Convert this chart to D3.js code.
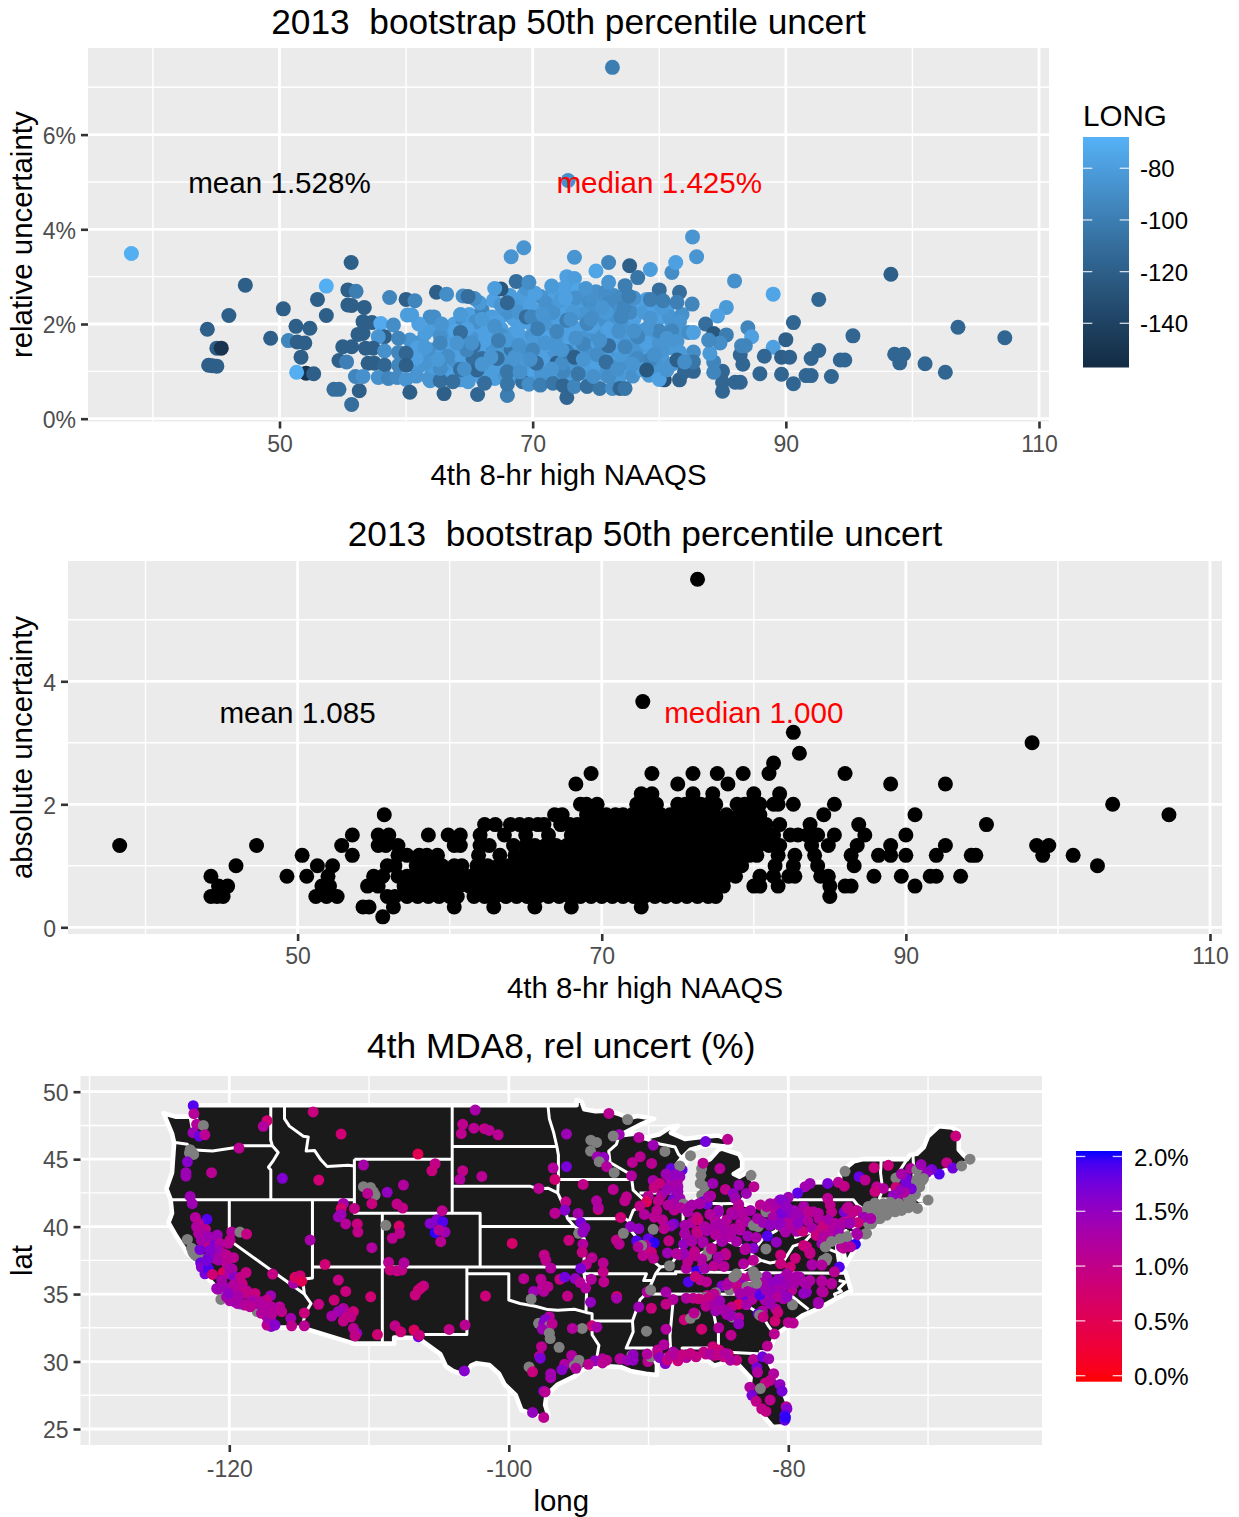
<!DOCTYPE html>
<html>
<head>
<meta charset="utf-8">
<script src="https://cdn.jsdelivr.net/npm/d3@7"></script>
<style>
  html, body { margin: 0; padding: 0; background: #fff; }
  svg { display: block; }
  text { font-family: "Liberation Sans", Arial, sans-serif; white-space: pre; }
</style>
</head>
<body>
<div id="chart"></div>
<script>
// ---- top panel: [4th 8-hr high, relative uncertainty %, longitude]
const relOutliers = [[76.3,7.42,-100],[72.8,5.03,-88],[38.3,3.49,-70],[55.66,3.3,-120],[47.3,2.82,-120],[53.7,2.8,-70],[55.4,2.72,-120],[56.05,2.69,-100],[53,2.52,-120],[46,2.18,-120],[50.3,2.32,-120],[55.4,2.4,-120],[55.7,2.39,-120],[56.7,2.35,-120],[58.7,2.56,-95],[60,2.52,-120],[60.7,2.49,-95],[53.7,2.18,-120],[60.1,2.19,-80],[60.45,2.19,-80],[62.4,2.67,-120],[63.2,2.63,-90],[64.5,2.59,-90],[65.4,2.54,-90],[64.9,2.58,-110],[67.5,2.74,-125],[67,2.75,-80],[68.7,2.9,-110],[69.7,2.88,-90],[68.3,3.42,-85],[69.3,3.61,-85],[73.3,3.41,-85],[51.3,1.95,-120],[52.4,1.91,-120],[44.3,1.89,-120],[49.3,1.7,-120],[50.7,1.65,-95],[51.4,1.62,-120],[52,1.6,-120],[45.05,1.49,-120],[45.4,1.49,-150],[44.4,1.13,-120],[44.7,1.12,-120],[45.05,1.11,-120],[51.7,1.3,-120],[52.1,.96,-150],[51.35,.98,-70],[52.7,.95,-120],[54.3,.62,-110],[54.7,.62,-110],[56.3,.59,-120],[55.7,.3,-110],[60.3,.56,-120],[63,.53,-120],[65.65,.51,-115],[68,.49,-100],[72.7,.45,-115]];

const relEastSide = [[82.63,3.84,-85],[82.95,3.42,-85],[75,3.12,-75],[76,3.3,-95],[77.66,3.23,-120],[79.3,3.15,-80],[78.3,2.98,-105],[81,3.09,-90],[81.3,3.3,-78],[76,2.88,-85],[77.3,2.81,-100],[85.95,2.91,-88],[89,2.63,-75],[92.6,2.52,-115],[98.3,3.05,-120],[85.3,2.35,-82],[84.6,2.17,-78],[83.66,2,-110],[84.3,1.8,-125],[85.3,1.77,-100],[87,1.92,-95],[87.3,1.73,-78],[90.6,2.03,-115],[95.3,1.75,-115],[103.6,1.93,-115],[107.3,1.71,-115],[90,1.67,-120],[89,1.51,-78],[92.6,1.44,-115],[86.4,1.35,-115],[86.5,1.54,-95],[86.8,1.54,-95],[88.3,1.32,-115],[89.66,1.3,-120],[90.3,1.3,-118],[92,1.27,-115],[94.3,1.24,-115],[94.66,1.24,-115],[98.6,1.36,-115],[99.3,1.36,-115],[99,1.18,-115],[101,1.16,-115],[102.6,.98,-115],[87.95,.95,-115],[89.66,.94,-115],[91.6,.91,-115],[92,.91,-115],[93.6,.89,-115],[90.6,.74,-115],[86.6,1.15,-115],[85,1,-115],[85,.58,-115],[85,.77,-115],[86,.77,-115],[86.4,.77,-115],[84.3,1.2,-95],[84.3,.98,-95],[84,1.38,-82],[84.8,1.6,-90],[83.9,1.66,-92],[82.7,1,-115],[81.6,.82,-118],[82,1,-115],[80.4,.82,-130],[80,.83,-78],[80.6,1.03,-85]];

const relWestSide = [[56.6,2.05,-120],[57.3,2.03,-120],[58,2.01,-72],[59,1.98,-90],[58.3,1.73,-120],[57.8,1.73,-85],[59.4,1.7,-95],[56.2,1.78,-120],[56.6,1.8,-120],[55,1.52,-120],[55.7,1.52,-120],[56.8,1.49,-120],[57.4,1.49,-120],[58.3,1.43,-88],[59.4,1.4,-95],[60,1.38,-115],[54.7,1.23,-120],[55.3,1.2,-98],[57,1.17,-120],[57.5,1.17,-120],[58.3,1.13,-115],[59.4,1.13,-95],[60,1.13,-120],[56,.89,-95],[56.6,.89,-88],[57.8,.87,-88],[58.6,.85,-95],[59.3,.87,-92],[60,.83,-85]];

const relBlobBase = [[60.3,1.66,-85],[61.2,1.63,-85],[60.6,1.4,-80],[61.4,1.31,-85],[61,1.1,-82],[62,1.05,-80],[62.2,1.3,-80],[62.6,1.5,-78],[63.4,1.7,-78],[62,1.89,-80],[63.2,1.84,-80],[61.9,2.15,-90],[62.2,2.15,-90],[63.8,2,-78],[64.5,2.06,-90],[65.6,1.98,-85],[66.4,2,-85],[65,2.2,-78],[66,2.3,-95],[66.9,2.5,-78],[67.7,2.19,-82],[67.5,1.9,-80],[68.5,2.1,-78],[68.8,2.45,-82],[69.3,2.61,-80],[70,2.3,-80],[70.6,2.58,-92],[71.2,2.35,-80],[71,2.55,-85],[71.8,2.6,-78],[72,2.3,-78],[72.7,2.75,-80],[72.4,2.75,-78],[72.7,3,-78],[73.3,2.96,-80],[73.6,2.72,-75],[73,2.4,-78],[74,2.45,-80],[74.5,2.47,-90],[75,2.68,-88],[75.7,2.67,-90],[75.6,2.44,-88],[76.4,2.6,-90],[77,2.4,-82],[74.5,2.26,-88],[63.8,1.45,-80],[64.5,1.7,-80],[65.4,1.8,-78],[64.7,1.25,-78],[63.7,1.1,-80],[65,.95,-82],[66.1,1.1,-78],[66.4,1.52,-78],[66.9,1.49,-88],[66.7,1.75,-82],[67.6,1.6,-78],[68.5,1.8,-80],[67.7,1.3,-78],[68.8,1.25,-78],[68.6,1.05,-80],[69.5,1.4,-78],[69.4,1.7,-80],[70,1.95,-78],[70.3,1.66,-85],[71,1.8,-78],[70.6,1.4,-78],[71,1.1,-80],[71.5,1.5,-78],[71.2,2.08,-80],[72.2,2,-78],[72.5,1.7,-78],[73,1.45,-78],[73.3,1.15,-78],[73.8,1.75,-80],[74.3,2.01,-80],[74.8,1.6,-78],[74.9,1.2,-78],[75.5,1.85,-80],[76,2.1,-85],[76.3,1.7,-78],[76.6,1.3,-78],[77.3,1.85,-80],[77.6,1.6,-78],[78,2.1,-78],[78.3,2.33,-78],[78.6,1.85,-78],[78.8,1.45,-78],[79,2.52,-78],[79.5,2.1,-78],[79.6,1.7,-78],[80.6,2.3,-78],[80,2.12,-78],[81,2,-80],[80.8,1.5,-82],[63,.95,-85],[61.8,.85,-85],[64.3,.82,-82],[66,.85,-78],[67,.85,-80],[68.2,.85,-82],[70,.9,-80],[71.6,.85,-80],[73,.9,-80],[74.4,.9,-82],[75.6,.95,-80],[77,1.05,-80],[78.2,1.02,-82]];

const relBlobFill = [[60.4,1.15,-82],[61.5,1.18,-85],[62.7,1.17,-78],[63.9,1.22,-88],[65.1,1.12,-76],[66.4,1.2,-85],[67.5,1.1,-78],[68.8,1.15,-88],[70,1.05,-76],[71.3,1.25,-85],[72.5,1.3,-78],[73.8,1.1,-88],[75,1,-78],[76.2,1.1,-85],[77.4,1.2,-88],[78.6,1.15,-85],[60.9,1.5,-78],[62.1,1.45,-88],[63.3,1.5,-76],[64.5,1.4,-85],[65.7,1.42,-78],[67,1.4,-85],[68.2,1.55,-76],[69.3,1.45,-88],[70.5,1.5,-78],[71.8,1.35,-85],[73,1.6,-76],[74.2,1.42,-88],[75.4,1.5,-78],[76.7,1.45,-85],[78,1.4,-88],[79.4,1.5,-85],[80.2,1.3,-82],[61.5,1.8,-80],[62.7,1.75,-88],[63.9,1.85,-76],[65.2,1.7,-85],[66.3,1.85,-78],[67.6,1.75,-88],[68.8,1.85,-78],[70,1.75,-85],[71.2,1.7,-76],[72.4,1.85,-85],[73.6,1.9,-78],[74.8,1.78,-88],[76,1.9,-78],[77.2,1.72,-85],[78.4,1.6,-88],[79.7,1.85,-85],[64.3,2.2,-82],[65.5,2.05,-88],[66.8,2.15,-80],[68,2.25,-88],[69.2,2.05,-78],[70.4,2.15,-85],[71.6,2.25,-88],[72.8,2.2,-78],[74,2.2,-85],[75.2,2.1,-88],[76.5,2.2,-88],[77.7,2.25,-92],[71,2.45,-88],[72.2,2.5,-82],[73.4,2.55,-88],[74.6,2.6,-88],[76,2.45,-92]];

const relBlobExtra = [[60.8,.9,-85],[62.3,.9,-80],[63.6,.88,-78],[64.8,.88,-85],[66.6,.95,-80],[67.8,.95,-85],[69.1,.92,-78],[70.7,.95,-85],[72,.95,-78],[72.9,1.02,-85],[74.1,1,-80],[75.9,1.02,-85],[76.8,.85,-82],[77.9,.9,-88],[79.2,.92,-82],[79.8,1.1,-85],[81,1.15,-85],[60.8,1.28,-78],[63,1.3,-85],[64.2,1.35,-78],[65.5,1.3,-82],[67,1.2,-78],[68.2,1.2,-85],[69.5,1.2,-82],[70.8,1.25,-78],[72.2,1.1,-85],[73.5,1.35,-82],[75.6,1.3,-78],[77,1.35,-82],[78.2,1.5,-85],[79.2,1.3,-78],[61.5,1.5,-82],[62.9,1.4,-78],[65,1.55,-85],[66.2,1.65,-78],[67.8,1.45,-82],[69,1.6,-78],[70.1,1.6,-82],[71.8,1.6,-85],[72.9,1.8,-78],[74,1.7,-85],[75.3,1.4,-82],[76.5,1.55,-78],[77.8,1.75,-82],[79,1.6,-78],[80,1.6,-85],[81.4,1.8,-82],[61,2,-78],[62.8,2,-85],[64.8,1.9,-78],[66,2.1,-82],[67.2,2.05,-78],[68.9,2.25,-85],[69.8,2.4,-78],[70.9,2,-85],[72.6,2.55,-78],[73.2,2.25,-82],[74.7,1.95,-78],[75.8,2.25,-82],[77,2,-85],[78.8,2.25,-82],[79.6,2.35,-78],[80.8,2.15,-85],[65.8,2.45,-82],[67.5,2.4,-85],[68.2,2.6,-80],[69.5,2.75,-85],[70.2,2.65,-78],[71.5,2.8,-82],[74.2,2.75,-85],[76.9,2.55,-92],[78,2.55,-88],[80.2,2.35,-82],[81.8,2.2,-88]];

const relBlobTop = [[61.9,.8,-85],[62.7,.8,-110],[63.7,.78,-110],[64.9,.78,-82],[66.2,.75,-110],[68,.73,-105],[69.2,.78,-110],[69.7,.73,-90],[70.6,.71,-100],[71.6,.75,-105],[72.4,.7,-115],[73.3,.68,-95],[74.3,.68,-110],[75.3,.64,-105],[76.3,.64,-90],[76.9,.64,-115],[77.3,.64,-105],[64.3,1.82,-110],[65.3,1.54,-110],[68.3,1.46,-105],[68,2.45,-115],[62.7,1.6,-95],[62.7,1.06,-90],[63.3,1.32,-90],[64.3,1.04,-110],[65.3,1.27,-110],[66,1.27,-110],[65.6,1.03,-115],[66.8,1.03,-80],[67.2,1.27,-110],[68,.99,-105],[70.3,1.17,-110],[69,.99,-88],[72.4,1,-95],[71.9,1.17,-120],[72.3,1.17,-90],[72.7,1.42,-100],[71.9,1.84,-95],[68,1.66,-82],[69.5,2.15,-110],[69.9,2.15,-95],[72.7,2.08,-100],[74,1.58,-95],[75.1,1.35,-90],[76,1.54,-110],[77.3,1.52,-95],[74.3,2.01,-95],[77,2.15,-95],[77.2,2.35,-95],[80,2.72,-110],[81.6,2.67,-110],[79.3,2.52,-100],[80.3,2.49,-100],[81.4,2.46,-98],[82.6,2.42,-95],[77.6,2.59,-100],[81.6,2.05,-85],[79.3,2.12,-85],[81,1.85,-95],[80,1.85,-95],[82.3,1.82,-90],[82.7,1.82,-78],[79,1.9,-85],[78.3,1.73,-95],[81.4,1.63,-85],[80.2,1.46,-85],[82.7,1.41,-90],[81.6,1.41,-82],[78.3,1.27,-92],[79.3,1.25,-95],[81.4,1.24,-120],[82.7,1.2,-105],[82,1.2,-90],[78.7,1.03,-78],[79,1.03,-125],[76,.89,-90],[74.8,.89,-88],[73.6,.95,-105],[75.8,1.2,-110],[70.4,1.9,-100],[70,1.45,-95],[67.3,1.65,-100],[64.8,1.45,-95],[74.6,2.1,-90],[76.8,1.85,-88],[73.3,1.3,-120]];

const relBlobLight = [[62.5,1.25,-82],[64,1.6,-85],[65.2,1.6,-88],[66.7,1.3,-85],[67,1.95,-88],[68.6,1.3,-85],[69.8,1.25,-88],[71,1.6,-85],[71.5,1.05,-85],[73.4,1.7,-88],[74,1.25,-85],[75.3,1.65,-88],[76.7,1.05,-88],[78,1.85,-88],[70.8,2.2,-85],[73,2.1,-88],[75.5,2.35,-85],[77.9,1.15,-85],[79.6,1.35,-88],[80.6,1.7,-85],[68.9,1.55,-88],[66,1.15,-85],[64.6,1.05,-88],[72.3,1.45,-85]];

// ---- middle panel: absolute uncertainty comes in steps, one x list per level
const absLevels = [0.17,0.33,0.5,0.67,0.83,1,1.17,1.33,1.5,1.67,1.83,2,2.17,2.33,2.5,2.67,2.83,3,3.17,3.67,5.66];
const absRows = [
  [55.6],
  [54.3,54.7,56.3,60.3,62.9,65.6,68,72.6],
  [44.3,44.7,45.1,51.2,51.9,52.6,55.9,56.4,57.2,57.9,58.6,59.3,60,60.5,61.6,62.3,63,63.7,64.4,65.1,65.8,66.5,67.2,67.9,68.6,69.3,70,70.7,71.4,72.1,72.8,73.5,74.2,74.9,75.6,76.3,77,77.5,85],
  [44.8,45.4,51.6,52.1,54.6,55.3,57,57.8,58.5,59.2,59.9,60.6,61.3,62,62.7,63.4,64.1,64.8,65.5,66.2,66.9,67.6,68.3,69,69.7,70.4,71.1,71.8,72.5,73.2,73.9,74.6,75.3,76,76.7,77.4,78,80,80.4,81.6,85,86,86.4,90.6],
  [44.3,49.3,50.6,52,55,55.6,56.6,57.2,58,58.6,59.3,60,60.7,61.4,62.1,62.8,63.5,64.2,64.9,65.6,66.3,67,67.7,68.4,69.1,69.8,70.5,71.2,71.9,72.6,73.3,74,74.7,75.4,76.1,76.8,77.5,78.2,78.8,80.4,81.3,82.3,82.7,84.4,84.9,87.9,89.7,91.6,92,93.6],
  [45.95,51.3,52.3,55.9,56.4,57.8,58.5,59.2,59.5,60.3,60.8,61.8,62.5,63.2,63.9,64.6,65.3,66,66.7,67.4,68.1,68.8,69.5,70.2,70.9,71.6,72.3,73,73.7,74.4,75.1,75.8,76.5,77.2,77.9,78.6,79.2,81.4,82.6,84.2,86.6,102.6],
  [50.3,53.6,56.6,57.2,58,58.5,59.2,61.9,63.3,64.3,65,65.7,66.4,67.1,67.8,68.5,69.2,69.9,70.6,71.3,72,72.7,73.4,74.1,74.8,75.5,76.2,76.9,77.6,78.3,79,79.7,80.2,81.6,82.7,84,86.4,88.2,89,90,92,94.3,94.6,99,101],
  [38.3,47.3,52.9,55.3,55.8,56.6,60.3,60.7,62,62.6,64.2,65,65.6,66.3,67,67.7,68.4,69.1,69.8,70.5,71.2,71.9,72.6,73.3,74,74.7,75.4,76.1,76.8,77.5,78.2,78.9,79.6,80.3,81,81.7,83.8,84.9,86.8,89,92.6,98.6,99.4],
  [53.6,55.3,56,58.6,59.9,60.7,62,63.6,65,66.5,68,68.7,69.4,70.1,70.8,71.5,72.2,72.9,73.6,74.3,75,75.7,76.4,77.1,77.8,78.5,79.2,79.9,80.6,81.3,82.4,82.9,83.5,84.2,85.3,87.3,90],
  [62.3,63,64,64.6,65.2,65.8,66.2,67.3,67.9,68.4,69,69.6,70.3,71,71.6,72.2,72.8,73.3,73.9,74.4,75,75.6,76.3,76.8,77.5,78.1,78.7,79.4,80.1,80.8,81.7,83.7,86.9,95.3],
  [55.7,66.9,67.4,69,69.6,70.3,70.9,71.4,72,72.6,73.3,73.9,74.5,75,75.6,76.2,76.8,77.4,78.2,79,79.4,79.8,80.4,84.6,90.6,107.3],
  [68.6,69,69.7,72.3,72.8,73.6,75,75.5,76,76.5,77,77.5,78.9,79.4,80,80.4,81.3,81.6,82.6,85.3,103.6],
  [72.6,73.3,76,77.3,80,81.7],
  [68.3,75,78.3,89,92.6],
  [69.3,73.3,76,77.6,79.3,81,86],
  [81.3],
  [83],
  [98.3],
  [82.6],
  [72.7],
  [76.3]
];

// ---- bottom panel: [lon, lat, rel uncert %], null is out of scale and comes out grey
const westSites = [[-122.58,48.96,1.9],[-122.53,48.37,1.15],[-122.34,47.58,1.15],[-121.86,47.5,null],[-122.6,46.96,1.4],[-122.15,46.7,1.8],[-121.75,46.8,1.1],[-117.3,47.85,.8],[-117.57,47.43,1.2],[-114,48.5,.9],[-112,46.86,.8],[-106.5,45.38,.5],[-102.4,48.64,1.3],[-103.3,47.58,1.05],[-103.4,46.9,1.05],[-102.5,47.3,1.1],[-101.74,47.26,1],[-101.4,47.13,1.1],[-100.76,46.8,1.1],[-122.7,45.55,null],[-122.8,45.7,null],[-122.55,45.35,null],[-122.85,45.45,null],[-123,44.8,1.6],[-123.1,44,1.4],[-123.1,43.75,1.4],[-121.27,44,1.1],[-119.3,45.82,1.1],[-116.2,43.58,1.65],[-113.6,43.45,.8],[-110.4,44.56,1.3],[-110.4,42.96,null],[-109.9,42.9,null],[-109.7,42.6,null],[-109.57,42.34,null],[-110.1,42.46,1.1],[-109.8,41.7,.9],[-108.7,42.54,1.5],[-107.54,43.08,1.2],[-105.27,44.66,1],[-105.5,44.14,.9],[-108,41.67,1],[-107.6,41.38,1],[-103.3,44.14,1],[-103.5,43.5,1.2],[-101.93,43.72,1.1],[-104.77,41.18,1.05],[-97.85,42.83,1.1],[-96.68,41,1.1],[-99.76,38.75,.7],[-97.47,37.9,1],[-97.35,37.5,1.05],[-97,36.93,1.2],[-98.93,36.14,1.1],[-101.67,34.85,.85],[-122.8,42.24,1.4],[-122.65,41.7,1.4],[-122.43,40.68,1.2],[-121.6,40.54,1.9],[-122.2,40.24,1.1],[-121.7,39.8,1.1]];

const californiaSites = [[-123,39.05,null],[-122.7,38.4,null],[-122.46,37.9,null],[-122.1,37.65,null],[-122.6,38.1,null],[-122.3,37.8,null],[-122.2,39.5,1.2],[-121.86,39.37,1.25],[-122,39,1.3],[-121,39.25,1.2],[-120.86,39.37,1.4],[-121.5,39,1.3],[-121.15,38.63,1.7],[-121.74,38.63,.95],[-122.1,38.3,1.7],[-120.43,38,1.1],[-121,37.65,1.3],[-120.8,38.2,1.1],[-121.5,37.72,1.6],[-122.05,37.32,1.8],[-122,37,1.6],[-121.74,36.5,1.7],[-121.5,36.9,1.9],[-121.2,36.46,.8],[-120.43,36.6,.6],[-120.07,38.76,1.1],[-119.7,37.7,1.05],[-120.2,37.27,1.1],[-119.8,36.85,1.1],[-120,36.5,1.2],[-119.67,36.3,1.6],[-118.8,36.6,.95],[-119.2,36.24,1],[-119.07,35.74,1],[-120.8,35.35,1.3],[-120.3,35.5,1.4],[-120,35.2,1.3],[-119.2,35.4,1.1],[-118.76,35.25,1.1],[-119.5,35,1.2],[-118.16,35.05,.9],[-118.16,34.56,1],[-117.04,34.88,1.4],[-117.33,34.56,1],[-117.9,33.87,2],[-118,33.7,null],[-117.5,34.1,1.6],[-117.25,34.06,1.2],[-116.4,34.06,1.15],[-116.25,33.7,1],[-117.3,33.3,1.2],[-117,33,1.4],[-117,32.6,1.65],[-117.3,32.7,1.1],[-115.6,33.2,1.35],[-115.54,32.65,1.05],[-114.63,32.65,1.1],[-114.63,33.6,.9],[-120.6,34.6,null],[-119.95,34.5,1.3],[-119.2,34.25,null],[-119.4,34.3,1.3],[-118.8,34.2,1.1],[-118.4,34.5,1.3],[-118,34.3,1.3],[-117.6,33.6,1.4],[-119.83,39.6,1.2],[-119.24,39.6,null],[-118.76,39.45,.95],[-119.95,39,1.1],[-122.34,39.99,1.2],[-121.98,39,1.3],[-121.5,39.25,1.4],[-120.67,38.76,1.2],[-120.9,38.26,1.4],[-121.38,38.26,1.6],[-120.79,37.52,1.3],[-120.2,37.9,1.1],[-119.95,36.9,1.3],[-120.55,36.04,1.3],[-120.9,35.42,1.4],[-119.7,35.67,1.2],[-118.9,35.05,1],[-119.35,34.8,1.3],[-120.2,34.8,1.3],[-119.6,34.43,1.3],[-118.9,34.19,1.2],[-118.5,34.06,1.1],[-117.8,34.43,1.2],[-117.4,34.06,1.2],[-117,34.06,1.2],[-116.4,33.85,1.1],[-117.7,33.57,1.2],[-117.1,33.1,1.4],[-116.73,32.7,1.6],[-116.95,33.55,1.15],[-120.07,35.05,1.5],[-121.6,37.5,1.7]];

const mountainSites = [[-116.9,36.48,.95],[-114.22,39,1.3],[-113.15,37.2,.8],[-115.4,35.8,1.3],[-115.3,36.24,.6],[-114.94,36.36,.8],[-114.82,35.96,.5],[-111.84,41.72,1.3],[-112,41.35,.75],[-111.05,41.35,1],[-112.2,40.73,1.4],[-112,40.9,1.4],[-111.67,40.2,1.15],[-110.84,40.2,.9],[-110.8,39.6,1],[-109.8,38.44,1.2],[-108.8,40.1,null],[-107.85,40.04,.7],[-107.8,39.5,1.05],[-108.33,39.13,1.1],[-105.63,40.24,1.6],[-105.15,40.5,1.6],[-104.73,40.36,1.9],[-105.27,39.55,2],[-104.56,39.6,1.4],[-105,39.75,1.2],[-104.87,38.88,1.1],[-108.6,37.35,1.1],[-108.5,36.78,.9],[-108,36.73,1],[-107.66,36.78,1],[-107.5,37.32,1.2],[-112.2,36.04,.95],[-111.67,35.2,.9],[-112.5,34.56,.85],[-109.88,34.8,.8],[-113.6,34.24,.95],[-111.84,33.94,1.25],[-112.2,33.7,1.4],[-112.67,33.37,1.3],[-111.12,33.7,.85],[-111.6,33.3,1],[-111.3,33.3,1],[-111.84,33,1],[-110.88,32.1,1.5],[-111.12,32.46,1.1],[-111,31.9,1],[-109.4,32,.8],[-106.1,35.6,1],[-106.3,35.45,.9],[-106.47,35.3,.85],[-106.7,34.93,.9],[-108.14,32.65,1],[-107.73,32.2,.85],[-106.47,31.84,1.8],[-106.78,32.33,.6],[-106.4,31.95,.9],[-104.27,32.38,1],[-103.13,32.7,1.1],[-103.18,29.3,1.6]];

const plainsSites = [[-98.23,35.2,1.4],[-97.6,35.47,1.2],[-97.2,35.55,1.1],[-97.5,35.2,1.2],[-98.4,34.63,null],[-97.87,32.83,null],[-97.5,32.83,1.5],[-97.1,33.32,1.2],[-97.4,33.1,1.6],[-97.1,32.65,null],[-97.6,32.4,1.4],[-96.9,32.8,1.1],[-97.04,31.7,null],[-97.1,32.1,null],[-97.66,31.1,1.1],[-97.8,30.4,1.1],[-97.75,30.25,1.7],[-98.55,29.6,null],[-98.3,29.24,.9],[-97,28.8,1.35],[-97.5,27.8,1.6],[-97.4,27.75,1.1],[-98.3,26.23,1.5],[-97.5,25.86,1.1],[-96.83,44.34,1.2],[-96.7,43.5,.8],[-95.87,46.86,1.4],[-95.87,44.44,1.7],[-94.68,43.13,1],[-93.72,41.91,1.2],[-93.6,41.27,.8],[-93.6,41.4,1.2],[-95.92,41.84,1],[-95.99,41.22,1.6],[-96.7,41,1.1],[-95.04,40.98,1.3],[-92.53,42.76,1.1],[-92,40.68,.85],[-94.85,40.3,1.7],[-94.55,39.9,1.5],[-95.0,39.5,null],[-94.7,39.6,1.5],[-94.7,38.7,1.2],[-95.7,38.99,.9],[-94.75,38.1,.95],[-94.05,37.7,1.1],[-94.45,37.2,1.1],[-94.85,36.9,1.7],[-93.25,37.3,1.1],[-93.25,36.65,1],[-92.3,39,1],[-92.1,38.7,1.1],[-97.7,36.1,1.1],[-97.4,35.6,1.1],[-96.35,36.1,.95],[-96,36.25,1.75],[-95.25,36.15,1.5],[-94.9,35.85,1.15],[-94.5,35.45,1.2],[-94.1,36.1,1.2],[-93.2,35.9,1.05],[-95.8,34.85,1],[-92.28,34.82,.6],[-92.28,34.7,1.3],[-94.15,34.4,1.5],[-94.05,32.65,.85],[-93.7,32.55,1.3],[-94.75,32.45,null],[-95.45,32.45,1.2],[-95.5,30.45,1.2],[-96.4,31.05,null],[-96,29.8,1.2],[-95.4,29.9,1.35],[-95.3,29.7,null],[-95.1,29.75,null],[-94.98,30.1,null],[-95.2,29.5,1.2],[-97,29.1,1.35],[-96.2,29.4,1.6],[-93.3,30.2,1.2],[-93.85,30.05,1.5],[-93.0,30.1,1.1],[-94.3,29.8,1.1],[-92.05,30.2,1.2],[-91.2,30.45,null],[-91.2,30.2,1.4],[-90.05,30.0,1.1],[-89.85,30.35,null],[-91.1,30.5,1.5]];

const lakesSites = [[-92.84,48.39,1.1],[-91.5,47.94,null],[-92.1,46.83,1.4],[-92.53,46.71,null],[-94.13,46.41,null],[-93.72,46.24,null],[-94.15,45.6,null],[-93.65,45.18,1.4],[-93.2,45.13,1.5],[-93.53,44.81,null],[-93,44.44,1.2],[-92.46,44,null],[-90.69,46.61,1.2],[-89.67,46.04,1.4],[-88.83,45.57,null],[-91.15,44.76,1.1],[-90.6,45.18,1.1],[-89.78,44.68,1.1],[-91.22,43.77,1.2],[-89.67,43.42,1.3],[-91.58,42.21,1.05],[-91.7,41.91,1.05],[-90.02,42.26,1.1],[-90.14,41.84,.6],[-90.62,41.52,1],[-89.2,43.2,.9],[-89.6,42.9,.95],[-88.4,44.3,1.8],[-87.6,44.2,1.85],[-87.76,43.7,1.5],[-88.5,43.58,1.4],[-88.23,43.3,1.4],[-87.9,42.96,1.4],[-88.5,42.96,1.3],[-88,42.45,1.4],[-89.07,42.34,1.2],[-88.23,42,1.7],[-87.76,42.1,1.4],[-88.16,41.23,1.1],[-87.76,44.5,null],[-86.2,44.3,null],[-86.25,43.8,null],[-86.3,43.2,null],[-86,42.96,null],[-86.2,42.34,null],[-87.5,41.67,null],[-86.1,44.7,1.1],[-84.9,44.3,1.15],[-84.5,42.76,1.05],[-85.4,43.2,1.4],[-85.56,42.27,1.2],[-86.1,41.85,1.8],[-85.8,41.67,1.7],[-86.9,41.6,1.3],[-86.4,41.7,1.3],[-83.53,43.08,1.4],[-83.94,42.46,1.5],[-83.8,42.1,1.4],[-83,42.46,1.4],[-82.46,42.96,1.1],[-82.67,43.8,null],[-83.58,41.43,1.15],[-85.92,46.3,1.75],[-84.34,46.47,1.1],[-87,45.26,null],[-86.55,40.7,1.1],[-85.6,40.9,1.15],[-85.25,40.5,1.2],[-85,41.2,1.3],[-86.1,39.85,1.3],[-86.45,39.5,.95],[-85.85,39.7,1.3],[-86.1,38.8,1.3],[-85.5,38.4,1.1],[-85.85,37.85,null],[-85.7,38.2,null],[-85,37.75,1.2],[-84.5,38,1.05],[-84.6,37.05,1.15],[-86.15,37.05,1.1],[-89.6,40.7,1.1],[-89,40.5,1.1],[-88.2,40.2,1.7],[-88.4,40.05,1.5],[-88.9,39.85,1.1],[-89.67,39.8,null],[-91.3,40,1.5],[-91.8,39.5,null],[-90.85,38.95,1.9],[-90.02,39.1,1.8],[-89.6,38.8,2],[-90.2,38.6,1.2],[-90.5,38.6,null],[-90.75,38.5,1.2],[-88.55,38.95,1],[-88.65,38.05,1.4],[-89.8,38.1,.9],[-90.4,37.85,1.1],[-89.65,37.65,1.1],[-87.4,39.45,1.2],[-87.5,38.7,1.5],[-86.9,38.9,1.2],[-87.5,38,1.2],[-87.8,37.9,1.2],[-87.15,37.75,1.1],[-86.7,37.85,1.05],[-87.3,36.9,1.2],[-88.5,37.1,null],[-86.55,36.7,2],[-87.15,35.9,1.9],[-86.3,36.05,1.05],[-86.65,36.3,.9],[-88.7,42.7,1.4],[-87.95,43.3,1.3],[-88.1,43.85,1.5],[-88.75,43.9,1.4],[-87.9,42.6,1.4],[-88.2,41.7,1.3],[-87.7,41.4,1.2],[-88.6,41.6,1.2],[-89.3,41.9,1.05],[-89.4,41.2,1.1],[-90.3,40.9,1.2],[-90.7,39.85,1.5],[-87.2,41.1,1.3],[-86.9,40.3,1.2],[-87.4,40.1,1.3],[-87.2,37.4,1.1],[-86.2,37.6,1.2],[-86,36.9,1.3],[-85.3,37.1,1.1]];

const ohioSites = [[-84.05,41.05,1.1],[-84.6,40.05,1.1],[-83.9,39.85,1.2],[-83.45,39.75,1.25],[-84.15,39.4,null],[-84.75,38.9,1.35],[-84.2,39.25,1.2],[-81.5,39.3,1.9],[-80.85,38.85,1.5],[-81.6,38.35,null],[-82.5,38.4,1.6],[-83,38.4,1.4],[-82.5,37.5,1.1],[-83.2,37.25,1.2],[-82,41.6,1.1],[-81.5,41.1,1.2],[-81.3,41.7,1.3],[-81.6,41.1,null],[-83.55,41.65,1.15],[-80.6,40.1,1.4],[-80.3,41.6,1.6],[-80.4,40.3,1.6],[-80.6,40.6,1.5],[-79.65,40.5,1.4],[-79.4,40.05,1.9],[-79.95,40.45,1.2],[-79,40.75,1.5],[-78.6,40.4,1.2],[-79.4,40.2,1.2],[-79.4,39.65,1.3],[-80,39.85,1.2],[-78.95,39.65,.9],[-77.1,40.2,1.1],[-87.04,41.48,1.3],[-86.32,41.7,1.3],[-85.72,42.2,1.3],[-85,41.1,1.4],[-85.6,40.9,1.2],[-86.45,40.5,.9],[-86.55,39.63,1],[-85.97,40,1.25],[-85.25,40,1.3],[-84.65,39.75,1.3],[-84.65,39,1.3],[-84.05,39.63,1.25],[-83.46,39.87,1.2],[-83,40.37,1.3],[-83.46,41.1,1.1],[-82.5,40.1,null],[-82.15,40,null],[-83.1,38.3,1.2],[-87.4,39.5,1.3],[-86.9,39,1.3],[-86.1,38.9,1.3],[-87.5,38,1.4],[-86.7,38.15,1.05],[-88,38,1.2],[-85.5,38.35,1.1],[-84.47,37.9,1.05],[-85,37.7,1.3],[-84.4,40.5,1.2],[-83.9,40.9,1.3],[-83.2,41,1.2],[-82.7,41.2,1.3],[-82.2,40.6,1.3],[-81.8,40.3,1.4],[-81.1,40.7,1.3],[-81.3,40.1,1.5],[-80.9,41.2,1.2],[-84.9,40.2,1.3],[-85.2,39.4,1.2],[-83.7,38.9,1.3],[-82.9,39.3,1.4],[-82.3,39.2,1.3],[-83.4,40.3,1.2],[-79.6,41.2,1.4],[-78.9,41.5,1.3],[-78.2,41.1,1.2],[-77.8,40.6,1.2],[-79.9,41.0,1.5],[-79.4,40.9,1.4],[-80.2,39.6,1.3],[-78.3,39.9,1.3]];

const eastSites = [[-68.02,46.71,.9],[-68.66,44.74,1],[-68.23,44.34,1.75],[-67.6,44.5,null],[-67,45,null],[-69.2,43.9,1.9],[-69.74,44.24,1.7],[-70.1,44,1.5],[-70,41.97,null],[-70.76,41.35,null],[-71.24,44.3,1.2],[-70.8,44.2,null],[-70.7,43.57,null],[-70.4,43.45,null],[-70.6,42.95,null],[-71.53,43.57,1.7],[-71.4,43.1,1.8],[-72.3,43.6,null],[-72.84,44.54,.9],[-73.87,44.37,.9],[-74.94,43.7,1.8],[-74.5,43.45,1.1],[-75.94,44.1,null],[-76.42,43.28,1.1],[-76,43,1],[-77.18,43.2,1.7],[-78.45,43.2,1.4],[-78.8,42.96,1.35],[-79.33,42.5,1.85],[-80,42.17,1.4],[-80.6,41.97,1.6],[-73.67,42.95,1.1],[-73.2,42.83,1.2],[-73.8,42.6,.9],[-72.3,42.9,.8],[-71.53,41.97,1.7],[-72.5,42.3,1.5],[-71.75,42.2,1.3],[-71.1,42.3,null],[-71.2,41.7,null],[-72.7,41.8,null],[-71.9,41.5,1.7],[-71.4,41.4,null],[-73.67,41.5,2],[-73.75,41,2],[-74.27,41.5,null],[-73.91,41,null],[-73.4,41.1,null],[-72.9,41.35,null],[-72.4,41.35,null],[-73.2,41.7,null],[-73.55,40.6,null],[-74.05,40.2,null],[-74.4,39.5,null],[-72,41.35,null],[-71.9,41.2,null],[-71.5,42.8,null],[-70.8,43.45,null],[-70.33,43.57,null],[-71.05,42.71,null],[-71.77,41.47,null],[-72.36,41.1,null],[-72.96,40.85,null],[-73.44,40.6,null],[-73.91,40.48,null],[-74.15,41.47,null],[-74.27,40.23,null],[-74.5,39.45,null],[-73.6,41.3,null],[-73,41.1,null],[-74.6,41.1,null],[-72.1,41.7,null],[-71,43.1,null],[-74.4,41,null],[-73.8,41.75,null],[-72.6,41.6,null],[-71.4,42.1,null],[-70.9,42.4,null],[-70.7,43,null],[-77.18,42.1,1.1],[-77,41.6,1.05],[-76.9,41.1,1.05],[-75.7,41.45,1.1],[-76,41.1,1.7],[-75.1,41.2,1.1],[-74.6,40.7,1.4],[-74.1,40.6,1.3],[-75,40.3,.9],[-75.6,40.5,1.1],[-76.05,40.35,1.2],[-76.55,40.05,1.3],[-77.5,40,.7],[-76.8,39.85,1.2],[-78,39.35,.9],[-77.6,38.75,1.4],[-76.95,38.95,null],[-77.35,38.5,null],[-76.2,38.5,1.3],[-75.85,39,1.4],[-75.2,38.7,2],[-75.05,39.4,1.3],[-78.7,38.5,1],[-78.45,38,1],[-79.5,37.65,.9],[-79.85,37,.8],[-80.55,37.9,.9],[-80.55,37.25,.9],[-78.3,37.2,1.2],[-77.3,37.5,null],[-77.55,37.4,1.2],[-76.35,37,1.9],[-76.7,36.65,1.1],[-81.55,41.48,1.2],[-80.84,41.73,1.3],[-80.48,41.98,1.6],[-80.48,40.99,1.7],[-80.12,41.48,1.5],[-79.3,40.25,1.5],[-80.6,40.25,1.5],[-78.57,41.11,1.1],[-77.85,40.99,1.2],[-75.8,41.36,1.1],[-75.35,41.1,1],[-76.66,40.25,1.2],[-75.6,40.25,1.4],[-76.3,40,1.3],[-77.15,40.5,1.3],[-76.9,39.63,1.2],[-77.6,39.88,.95],[-77.5,39.26,1.2],[-76.4,39.5,1.4],[-77.34,38.5,null],[-76.9,38.9,null],[-76.3,39.1,null],[-75.8,39.26,null],[-75.1,39.5,1.3],[-76.05,38.4,1.1],[-75.55,38.5,1.2],[-78.69,38.5,1],[-78.9,38.6,.9],[-78.45,38.1,1],[-77.25,37.65,null],[-77.5,37.5,null],[-77.6,37.15,1.2],[-78.3,37.15,1.3],[-71.2,42.8,1.7],[-71.7,42.55,1.2],[-72,42.7,1.4],[-71.6,43.3,1.7],[-71.9,43.9,1.3],[-70.5,44.6,1.4]];

const southSites = [[-81.55,36.3,1.4],[-81,35.85,1.4],[-80.6,36,1.3],[-80.1,36.5,1.3],[-79.4,36.3,1.3],[-78.9,35.9,1.3],[-78.45,36,1.25],[-77.6,36,1.2],[-76.9,35.75,1.1],[-77.5,35.15,1.1],[-78.7,35.15,1.5],[-79.75,35.3,1.1],[-80.35,34.65,1.3],[-81.2,34.9,1.2],[-80.85,35.25,1.3],[-80.9,33.9,1.2],[-80.75,33.65,.9],[-79.7,34.2,null],[-77.85,34.3,1.35],[-81.85,33.75,1.2],[-82.15,33.55,1.8],[-82.05,33.45,null],[-81.8,33.3,1],[-80.95,33,.8],[-80,32.9,1.1],[-79.65,32.85,1.1],[-81,32.05,1.1],[-81.5,31.15,1.1],[-82.25,36.35,null],[-82.7,36.35,1.15],[-83.25,36.15,1.1],[-83.9,36.05,null],[-84.25,35.85,1.05],[-84.75,35.6,1.6],[-85.85,35.9,1.1],[-85.2,35.1,null],[-84.2,35.3,null],[-83.4,35.7,1.5],[-82.5,35.55,1.3],[-82.15,35.2,1.4],[-82.35,34.9,1.3],[-82.6,34.6,1.2],[-83.3,34.7,1.8],[-83.55,34.25,.6],[-84.05,34.05,1],[-84.2,33.5,2],[-84,33.3,null],[-85.8,34.9,1.05],[-85.95,34.75,null],[-85.3,35,1.1],[-85.65,34.45,1.1],[-85.2,33.75,1.4],[-84.8,33.95,1.3],[-84.6,33.8,1.3],[-84.35,33.7,1.3],[-84.4,33.5,1.3],[-83.55,33.25,1.2],[-83.55,32.8,1.5],[-84.15,33.4,1.4],[-84.98,32.5,1.2],[-84.1,31.95,1.05],[-88.75,35.15,1.3],[-88.25,34.6,1.2],[-87.3,34.7,1.2],[-86.8,34.7,1.1],[-86.4,34.65,.95],[-85.75,34.7,.95],[-89.98,35.2,1.8],[-90.1,35.15,1.2],[-89.85,35.3,null],[-90.7,34.05,1.4],[-89.8,33.95,.9],[-88.75,34.25,1],[-90.15,32.25,null],[-88.75,32.4,1.2],[-87.45,33.1,.85],[-86.65,33.5,null],[-87,33.2,null],[-86.75,33.6,1.1],[-86.2,32.4,.8],[-85.9,34.1,1.1],[-80.35,36.2,1.3],[-79.88,36.27,1.3],[-79.2,36.27,1.3],[-78.7,35.68,1.3],[-80.84,35.68,1.3],[-81.3,35.8,1.5],[-81.9,35.8,1.3],[-81.2,35.05,1.5],[-80.5,35.05,1.4],[-78.9,35.05,1.5],[-77.6,35.9,1.2],[-76.9,35.8,1.2],[-77.6,35.2,1.2],[-77.85,34.4,1.35],[-84.4,35.68,1.25],[-83.7,35.68,1.05],[-83.58,35.4,1],[-82.96,35.55,null],[-83.9,36.27,null],[-83.7,36.5,null],[-83.46,35.05,1.3],[-82.27,35.8,null],[-82.4,36.3,null],[-82.5,36.65,null],[-81.67,34.55,1.3],[-80.84,34.8,1.2],[-82.03,34.95,1.9],[-80.2,35.7,1.4],[-79.6,35.75,1.3],[-80.7,36.1,1.5],[-81.6,35.3,1.4],[-82.9,35.2,1.3],[-81.3,34.3,1.4],[-80.1,34.8,1.5],[-83,34.2,1.3],[-85.3,34.2,1.3],[-84.9,34.5,1.4]];

const gulfSites = [[-92,30.2,1.2],[-93.3,29.9,1.1],[-91.5,30.1,1.4],[-91.1,30.1,1.5],[-90.1,30.55,1.2],[-89.35,30.85,1.1],[-88.9,31.25,1.2],[-88.25,30.7,1.3],[-89.3,30.45,1],[-89.2,30.3,1.5],[-88.8,29.85,1.6],[-88.65,30.1,.9],[-88.2,30.5,null],[-87.9,30.05,.9],[-87.3,30.3,1.2],[-86.6,30.35,1],[-86.05,30.7,.95],[-85.3,30.45,1],[-84.6,30.35,.9],[-83.7,30.1,1],[-84.95,30.85,.85],[-85.4,31.1,.85],[-84.3,30.55,.85],[-84.15,30.1,1.2],[-82.5,30.15,1.1],[-81.85,30.35,1.75],[-81.4,30.2,1.4],[-82.25,29.55,1.7],[-82.2,29.2,1.2],[-81.05,29.1,1.2],[-81.3,28.6,1.1],[-81.65,28.4,1],[-82.75,28.1,1.2],[-82,28.0,null],[-82.6,27.5,1.7],[-82.3,27.05,1],[-81.9,26.5,1],[-81.6,26.3,1],[-81.3,27.15,1.05],[-80.6,28.3,1.5],[-80.45,27.8,1.7],[-80.15,26.65,1.1],[-80.1,26.5,1.6],[-80.25,26,1.9],[-80.25,25.65,1.8],[-80.2,25.85,2],[-88.5,30.4,1.1],[-88.1,30.55,1.2],[-87.6,30.5,.95],[-87,30.6,.95],[-85.9,30.55,1],[-85.6,30.55,1.2],[-85,30.5,1],[-84.5,30.6,1.2]];

const mapOutline = [[-124.7,48.4],[-123.8,48.15],[-123.1,48.15],[-122.75,48.15],[-122.6,47.3],[-122.35,47.4],[-122.4,48.2],[-122.75,49],[-95.15,49],[-95.15,49.38],[-94.8,49.3],[-94.6,48.7],[-93.8,48.55],[-92.9,48.6],[-92,48.3],[-91.4,48.05],[-90.8,48.2],[-89.6,48],[-90.5,47.6],[-92.1,46.75],[-90.9,46.9],[-90.4,46.55],[-89.2,46.85],[-88.4,47.4],[-87.9,47.47],[-88.4,46.95],[-87.4,46.5],[-86.2,46.65],[-85,46.75],[-84.4,46.5],[-84.1,46],[-84.7,45.95],[-85.5,46.05],[-86.3,45.9],[-87,45.7],[-87.6,45.1],[-88,44.55],[-87.4,44.9],[-87.05,45.25],[-87.5,44.3],[-87.9,43],[-87.8,42.3],[-87.5,41.7],[-87,41.65],[-86.5,42.1],[-86.2,43],[-86.5,43.7],[-86.2,44.7],[-85.6,45],[-85,45.7],[-84.75,45.78],[-83.5,45.35],[-83.3,44.9],[-83.3,44.3],[-83.9,43.9],[-83.5,43.7],[-82.9,44.05],[-82.5,43.4],[-82.5,42.9],[-83.1,42.2],[-83.4,41.75],[-82.7,41.5],[-81.7,41.5],[-80.5,42],[-79,42.7],[-78.9,43],[-79.05,43.27],[-77.5,43.3],[-76.3,43.5],[-76.3,44],[-75.3,44.85],[-74.7,45],[-71.5,45],[-71.3,45.3],[-70.8,45.4],[-70.3,45.9],[-70,46.7],[-69.2,47.45],[-68.3,47.35],[-67.8,47.05],[-67.8,45.7],[-67.45,45.3],[-67,44.85],[-68.2,44.3],[-69,44.1],[-70.2,43.6],[-70.7,43.05],[-70.8,42.6],[-71,42.3],[-70.6,41.95],[-70,42],[-70,41.65],[-71.2,41.5],[-71.5,41.4],[-72.9,41.25],[-73.7,40.95],[-73.9,40.6],[-74,40.4],[-74.1,39.7],[-74.9,38.95],[-75.5,39.5],[-75.1,38.6],[-75.9,37.15],[-76,37.9],[-76.4,39.2],[-76.5,38.4],[-76.3,37],[-75.9,36.6],[-75.5,35.25],[-76.5,34.7],[-77.9,33.9],[-79,33.4],[-79.9,32.7],[-80.9,32],[-81.4,30.7],[-81.3,29.8],[-80.6,28.4],[-80,26.8],[-80.2,25.6],[-80.4,25.2],[-81.1,25.15],[-81.8,26],[-82.2,26.9],[-82.8,27.9],[-82.7,28.8],[-83.7,29.9],[-84.2,30.05],[-85.3,29.7],[-86.2,30.4],[-87.5,30.3],[-88,30.25],[-88,30.65],[-88.9,30.4],[-89.6,30.2],[-89.4,29.8],[-89.4,29],[-90.2,29.1],[-91.3,29.3],[-92,29.6],[-93.8,29.7],[-94.7,29.4],[-95.3,28.9],[-96.5,28.3],[-97.3,27.5],[-97.4,26.8],[-97.15,25.95],[-97.6,25.85],[-99.1,26.4],[-99.5,27.5],[-100.3,28.3],[-100.7,29.1],[-101.4,29.75],[-102.3,29.88],[-102.7,29.7],[-103.1,28.98],[-104,29.3],[-104.5,29.65],[-104.9,30.55],[-106.5,31.75],[-108.2,31.78],[-108.2,31.33],[-111.07,31.33],[-114.8,32.5],[-117.12,32.53],[-117.3,33],[-118.4,33.75],[-119.2,34.15],[-120.6,34.55],[-120.65,35.15],[-121.9,36.6],[-122.5,37.6],[-123,38],[-123.8,39.3],[-124.35,40.3],[-124.1,41],[-124.2,42],[-124.5,42.8],[-124.1,44],[-123.95,46.2],[-124.1,46.9],[-124.7,48.4]];

const longIsland = [[-74,40.6],[-73.7,40.9],[-72.3,41.15],[-71.9,41.05],[-73.5,40.6],[-74,40.6]];

const stateBorders = [
  [[-124,46.25],[-123,46.1],[-122.8,45.7],[-121.2,45.6],[-119.3,45.9],[-119,46],[-116.92,46]],
  [[-117.03,49],[-117.04,46.42],[-116.92,46],[-116.5,45.5],[-116.85,44.9],[-117.2,44.4],[-117.03,44.2],[-117.03,42]],
  [[-124.2,42],[-111.05,42]],
  [[-120,42],[-120,39],[-114.63,35],[-114.15,34.3],[-114.5,33.7],[-114.7,33],[-114.72,32.72]],
  [[-114.05,42],[-114.05,36.2],[-114.75,36.1],[-114.63,35]],
  [[-114.05,37],[-94.62,37]],
  [[-109.05,41],[-109.05,31.33]],
  [[-111.05,45],[-111.05,41],[-102.05,41],[-102.05,37]],
  [[-102.05,40],[-95.3,40]],
  [[-104.05,49],[-104.05,41]],
  [[-111.05,45],[-104.05,45]],
  [[-104.05,45.94],[-96.56,45.94]],
  [[-104.05,43],[-98.5,43],[-97.9,42.8],[-97.2,42.85],[-96.5,42.5]],
  [[-116.05,49],[-116.05,48],[-115.7,47.45],[-114.7,46.7],[-114.35,46.65],[-114.5,45.6],[-113.9,45.65],[-113.45,44.95],[-113,44.45],[-111.5,44.55],[-111.05,44.5]],
  [[-97.2,49],[-97.1,48],[-96.8,47],[-96.56,45.94],[-96.45,45.3],[-96.45,43.5],[-91.2,43.5]],
  [[-96.45,43.5],[-96.5,42.5],[-96.1,41.6],[-95.9,41],[-95.8,40.6],[-95.3,40],[-94.9,39.8],[-95.1,39.5],[-94.6,39.1],[-94.62,36.5],[-94.43,35.4],[-94.48,33.64]],
  [[-95.8,40.58],[-91.7,40.6],[-91.4,40.4]],
  [[-94.62,36.5],[-90.15,36.5],[-90.35,36],[-89.7,36]],
  [[-103,37],[-103,32],[-106.6,32],[-106.5,31.75]],
  [[-103,36.5],[-100,36.5],[-100,34.56],[-99.2,34.3],[-98.1,34.1],[-97.2,33.85],[-96.5,33.8],[-95.3,33.88],[-94.48,33.64],[-94.04,33.55],[-94.04,31.99],[-93.55,31.2],[-93.7,30.3],[-93.85,29.7]],
  [[-94.04,33],[-91.15,33]],
  [[-92.1,46.75],[-92.3,46.1],[-92.85,45.6],[-92.75,44.75],[-91.25,43.85],[-91.2,43.5],[-91.1,42.7],[-90.15,41.8],[-91.1,41.2],[-91.4,40.4],[-91.5,40],[-90.7,39],[-90.2,38.7],[-90.2,38.2],[-89.5,37.3],[-89.15,37],[-89.5,36.5],[-89.7,36],[-90.1,35.1],[-90.6,34.6],[-91.15,33],[-91.1,32.2],[-91.6,31],[-89.73,31],[-89.85,30.65],[-89.6,30.2]],
  [[-90.65,42.5],[-87.8,42.5]],
  [[-90.4,46.55],[-89.1,46.1],[-88.1,45.9],[-87.85,45.35],[-87.6,45.1]],
  [[-87.53,41.7],[-87.53,39.3],[-87.6,38.7],[-88,37.8]],
  [[-89.15,37],[-88.45,37.1],[-88,37.8],[-87,37.9],[-86.3,38],[-85.7,38.3],[-85.4,38.7],[-84.8,39.1],[-84.3,38.9],[-83.7,38.65],[-82.6,38.45],[-82.2,38.6],[-81.75,39.2],[-80.85,39.7],[-80.52,40.64]],
  [[-84.81,41.7],[-84.81,39.1]],
  [[-86.8,41.76],[-84.81,41.7],[-83.45,41.73]],
  [[-80.52,41.98],[-80.52,39.72],[-75.79,39.72]],
  [[-79.76,42.27],[-79.76,42],[-75.35,42],[-75.05,41.6],[-74.7,41.36],[-75.1,41],[-75.1,40.6],[-74.75,40.2],[-75.4,39.8]],
  [[-74.7,41.36],[-73.9,41]],
  [[-75.79,39.72],[-75.7,38.46],[-75.05,38.45]],
  [[-79.48,39.72],[-79.48,39.2],[-78.4,39.6],[-77.75,39.3],[-77.1,38.9],[-77.3,38.4],[-76.3,38]],
  [[-77.75,39.3],[-78.35,39.4],[-78.9,38.8],[-79.65,38.55],[-80.3,37.5],[-81.3,37.3],[-81.95,37.5],[-82.6,37.9],[-82.6,38.45]],
  [[-81.95,37.5],[-83.68,36.6]],
  [[-75.9,36.55],[-81.68,36.59],[-83.68,36.6],[-88.07,36.65],[-88.05,36.5],[-89.5,36.5]],
  [[-90.2,35],[-84.32,34.99],[-84,35.4],[-83.1,35.75],[-82.4,36.05],[-81.68,36.59]],
  [[-84.32,34.99],[-83.1,35],[-82.3,35.2],[-81.05,35.15],[-80.8,34.82],[-79.7,34.8],[-78.55,33.86]],
  [[-83.1,35],[-83.35,34.7],[-82.75,34],[-81.9,33.45],[-81.4,32.6],[-81,32.05]],
  [[-85.6,35],[-85.2,32.85],[-85,32.3],[-85,31],[-87.6,31],[-87.4,30.4]],
  [[-85,30.72],[-82.2,30.57],[-82.05,30.36],[-82,30.75],[-81.45,30.7]],
  [[-88.2,35],[-88.47,31.9],[-88.4,30.35]],
  [[-73.35,45],[-73.4,44],[-73.25,42.75],[-73.5,42.05],[-73.65,41]],
  [[-73.5,42.05],[-71.38,42.02],[-71.12,41.5]],
  [[-71.8,42.02],[-71.85,41.32]],
  [[-73.25,42.75],[-71.3,42.7],[-70.8,42.87]],
  [[-72.46,42.73],[-72.05,44.1],[-71.5,45]],
  [[-71.08,45.3],[-70.98,43.4],[-70.7,43.07]],
  // NC sounds
  [[-76.4,36],[-75.9,35.9],[-76.4,35.4],[-76.2,35.2],[-76.7,35],[-76.6,34.8]]
];

// legend scales
const longTicks = [-80,-100,-120,-140];
const longDomain = [-157.1,-67.9];
const uncertTicks = [2,1.5,1,0.5,0];
const uncertDomain = [-0.055,2.05];

const longColor = d3.scaleLinear().domain(longDomain).range(["#132B43","#56B1F7"]).interpolate(d3.interpolateLab);
const uncertColor = d3.scaleLinear().domain(uncertDomain).range(["#ff0000","#0000ff"]).interpolate(d3.interpolateLab);

const svg = d3.select("#chart").append("svg").attr("width", 1239).attr("height", 1517);

/**
 * Grey panel with grid lines, ticks, tick labels, title and axis names
 */
function drawPanel(p) {
    const g = svg.append("g");

    g.append("rect")
        .attr("x", p.left).attr("y", p.top)
        .attr("width", p.right - p.left).attr("height", p.bottom - p.top)
        .style("fill", "#ebebeb");

    // grid, minor first
    g.selectAll(null).data(p.minorX).enter().append("line")
        .attr("x1", d => p.x(d)).attr("x2", d => p.x(d)).attr("y1", p.top).attr("y2", p.bottom)
        .style("stroke", "#fff").style("stroke-width", 1.4);
    g.selectAll(null).data(p.minorY).enter().append("line")
        .attr("y1", d => p.y(d)).attr("y2", d => p.y(d)).attr("x1", p.left).attr("x2", p.right)
        .style("stroke", "#fff").style("stroke-width", 1.4);
    g.selectAll(null).data(p.ticksX).enter().append("line")
        .attr("x1", d => p.x(d)).attr("x2", d => p.x(d)).attr("y1", p.top).attr("y2", p.bottom)
        .style("stroke", "#fff").style("stroke-width", 2.8);
    g.selectAll(null).data(p.ticksY).enter().append("line")
        .attr("y1", d => p.y(d)).attr("y2", d => p.y(d)).attr("x1", p.left).attr("x2", p.right)
        .style("stroke", "#fff").style("stroke-width", 2.8);

    // axes
    const xAxis = g.append("g")
        .attr("transform", `translate(0,${p.bottom})`)
        .call(d3.axisBottom(p.x).tickValues(p.ticksX).tickSize(7).tickPadding(p.xPad).tickFormat(d => d));
    const yAxis = g.append("g")
        .attr("transform", `translate(${p.left},0)`)
        .call(d3.axisLeft(p.y).tickValues(p.ticksY).tickSize(7).tickPadding(5).tickFormat(p.formatY));
    [xAxis, yAxis].forEach(a => {
        a.select(".domain").remove();
        a.selectAll("line").style("stroke", "#333").style("stroke-width", 2.6);
        a.selectAll("text").style("font-size", "23px").style("fill", "#4d4d4d");
    });
    yAxis.selectAll("text").attr("dy", "0.38em");

    // title and axis names
    const mid = (p.left + p.right) / 2;
    g.append("text").attr("x", mid).attr("y", p.titleY)
        .style("text-anchor", "middle").style("font-size", "35.3px").text(p.title);
    g.append("text").attr("x", mid).attr("y", p.xNameY)
        .style("text-anchor", "middle").style("font-size", "29.4px").text(p.xName);
    g.append("text")
        .attr("transform", `translate(${p.yNameX},${(p.top + p.bottom) / 2}) rotate(-90)`)
        .style("text-anchor", "middle").style("font-size", "29.4px").text(p.yName);
    return g;
}

/**
 * Vertical colour bar with little white ticks
 */
function drawColorBar(o) {
    const bar = d3.scaleLinear().domain(o.domain).range([o.bottom, o.top]);
    const id = o.id;
    const stops = d3.range(0, 1.001, 0.05);
    const grad = svg.append("defs").append("linearGradient")
        .attr("id", id).attr("x1", 0).attr("x2", 0).attr("y1", 1).attr("y2", 0);
    grad.selectAll("stop").data(stops).enter().append("stop")
        .attr("offset", d => d)
        .attr("stop-color", d => o.color(o.domain[0] + d * (o.domain[1] - o.domain[0])));
    svg.append("rect")
        .attr("x", o.left).attr("y", o.top)
        .attr("width", o.width).attr("height", o.bottom - o.top)
        .style("fill", `url(#${id})`);
    o.ticks.forEach(t => {
        [[o.left, o.left + 9.3], [o.left + o.width - 9.3, o.left + o.width]].forEach(e => {
            svg.append("line")
                .attr("x1", e[0]).attr("x2", e[1]).attr("y1", bar(t)).attr("y2", bar(t))
                .style("stroke", "#fff").style("stroke-opacity", 0.8).style("stroke-width", 1.3);
        });
        svg.append("text")
            .attr("x", o.left + o.width + o.labelGap).attr("y", bar(t)).attr("dy", "0.38em")
            .style("font-size", "24px").text(o.format(t));
    });
}

// ---- panel 1: relative uncertainty
const x1 = d3.scaleLinear().domain([50,110]).range([279.5,1039]);
const y1 = d3.scaleLinear().domain([0,6]).range([418.7,134.6]);
const g1 = drawPanel({
    left: 88, right: 1049, top: 48, bottom: 421.5, x: x1, y: y1, xPad: 7,
    ticksX: [50,70,90,110], minorX: [40,60,80,100],
    ticksY: [0,2,4,6], minorY: [1,3,5,7], formatY: d => d + "%",
    title: "2013  bootstrap 50th percentile uncert", titleY: 34,
    xName: "4th 8-hr high NAAQS", xNameY: 485, yName: "relative uncertainty", yNameX: 32
});
const relSites = [].concat(relBlobBase, relBlobFill, relBlobExtra, relWestSide, relEastSide, relOutliers, relBlobTop, relBlobLight);
g1.selectAll("circle").data(relSites).enter().append("circle")
    .attr("cx", d => x1(d[0])).attr("cy", d => y1(d[1])).attr("r", 7.5)
    .style("fill", d => longColor(d[2]));
g1.append("text").attr("x", x1(50)).attr("y", y1(5)).attr("dy", "0.38em")
    .style("text-anchor", "middle").style("font-size", "29.6px").text("mean 1.528%");
g1.append("text").attr("x", x1(80)).attr("y", y1(5)).attr("dy", "0.38em")
    .style("text-anchor", "middle").style("font-size", "29.6px").style("fill", "red").text("median 1.425%");
svg.append("text").attr("x", 1083).attr("y", 126).style("font-size", "29.6px").text("LONG");
drawColorBar({
    id: "longBar", domain: longDomain, color: longColor, ticks: longTicks, format: d => d,
    left: 1083, width: 46, top: 137, bottom: 367.5, labelGap: 11
});

// ---- panel 2: absolute uncertainty
const x2 = d3.scaleLinear().domain([50,110]).range([297.6,1210]);
const y2 = d3.scaleLinear().domain([0,4]).range([927.3,681.3]);
const g2 = drawPanel({
    left: 68, right: 1222, top: 561, bottom: 934, x: x2, y: y2, xPad: 7,
    ticksX: [50,70,90,110], minorX: [40,60,80,100],
    ticksY: [0,2,4], minorY: [1,3,5], formatY: d => d,
    title: "2013  bootstrap 50th percentile uncert", titleY: 546,
    xName: "4th 8-hr high NAAQS", xNameY: 998, yName: "absolute uncertainty", yNameX: 32
});
absRows.forEach((row, i) => {
    g2.selectAll(null).data(row).enter().append("circle")
        .attr("cx", d => x2(d)).attr("cy", y2(absLevels[i])).attr("r", 7.5)
        .style("fill", "#000");
});
g2.append("text").attr("x", x2(50)).attr("y", y2(3.5)).attr("dy", "0.38em")
    .style("text-anchor", "middle").style("font-size", "29.6px").text("mean 1.085");
g2.append("text").attr("x", x2(80)).attr("y", y2(3.5)).attr("dy", "0.38em")
    .style("text-anchor", "middle").style("font-size", "29.6px").style("fill", "red").text("median 1.000");

// ---- panel 3: map
const x3 = d3.scaleLinear().domain([-120,-80]).range([229.3,788.3]);
const y3 = d3.scaleLinear().domain([25,50]).range([1429,1091.7]);
const g3 = drawPanel({
    left: 80.5, right: 1042, top: 1076, bottom: 1445, x: x3, y: y3, xPad: 9,
    ticksX: [-120,-100,-80], minorX: [-130,-110,-90,-70],
    ticksY: [25,30,35,40,45,50], minorY: [27.5,32.5,37.5,42.5,47.5], formatY: d => d,
    title: "4th MDA8, rel uncert (%)", titleY: 1058,
    xName: "long", xNameY: 1511, yName: "lat", yNameX: 32
});
const mapLine = d3.line().x(d => x3(d[0])).y(d => y3(d[1]));
[mapOutline, longIsland].forEach(shape => {
    g3.append("path").attr("d", mapLine(shape) + "Z")
        .style("fill", "#1a1a1a").style("stroke", "#fff").style("stroke-width", 4.6).style("stroke-linejoin", "round");
});
g3.selectAll("path.border").data(stateBorders).enter().append("path")
    .attr("class", "border").attr("d", mapLine)
    .style("fill", "none").style("stroke", "#fff").style("stroke-width", 3).style("stroke-linejoin", "round");
const mapSites = [].concat(westSites, californiaSites, mountainSites, plainsSites, lakesSites, ohioSites, eastSites, southSites, gulfSites);
g3.selectAll("circle").data(mapSites).enter().append("circle")
    .attr("cx", d => x3(d[0])).attr("cy", d => y3(d[1])).attr("r", 5.5)
    .style("fill", d => d[2] === null ? "#7f7f7f" : uncertColor(d[2]));
drawColorBar({
    id: "uncertBar", domain: uncertDomain, color: uncertColor, ticks: uncertTicks, format: d => d.toFixed(1) + "%",
    left: 1076, width: 46, top: 1151, bottom: 1381.7, labelGap: 12
});
</script>
</body>
</html>
